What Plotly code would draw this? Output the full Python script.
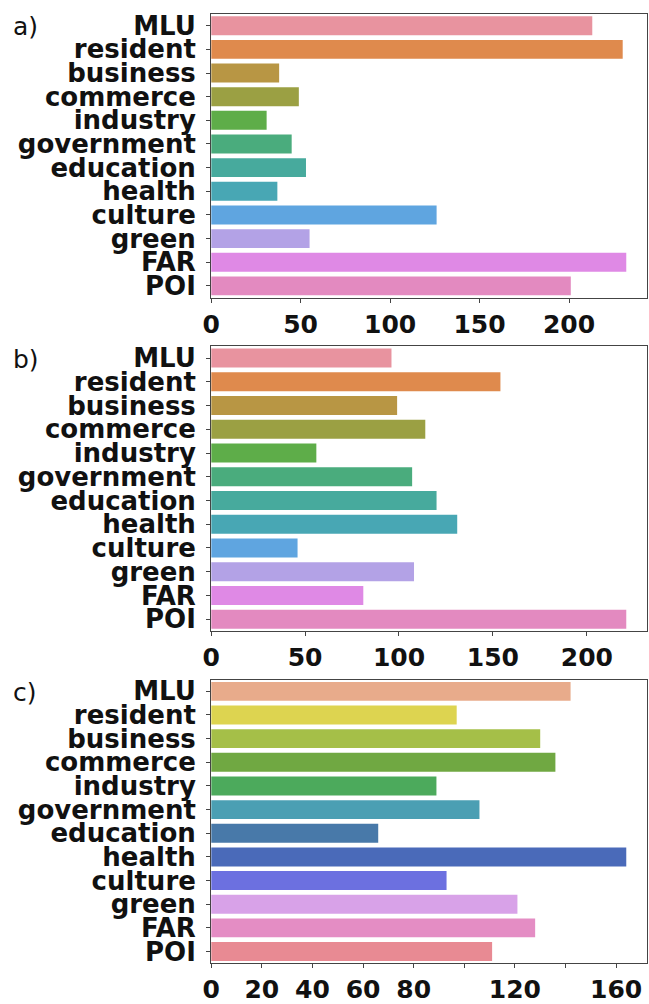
import plotly.graph_objects as go
from plotly.subplots import make_subplots

categories = ["MLU", "resident", "business", "commerce", "industry", "government",
              "education", "health", "culture", "green", "FAR", "POI"]

values_a = [213, 230, 38, 49, 31, 45, 53, 37, 126, 55, 232, 201]
values_b = [96, 154, 99, 114, 56, 107, 120, 131, 46, 108, 81, 221]
values_c = [142, 97, 130, 136, 89, 106, 66, 164, 93, 121, 128, 111]

colors_ab = ["#e8939f", "#df8a4d", "#b89644", "#9ba043", "#5ead49", "#4aac7d",
             "#47aa9d", "#48a7b4", "#5fa5e0", "#b3a2e6", "#df89e5", "#e38ac0"]
colors_c = ["#e8ab8b", "#ddd450", "#a5bf48", "#70a842", "#4caa5c", "#4b9fb3",
            "#4879a9", "#4a6ab9", "#6c70e0", "#d8a2e8", "#e48dc4", "#e88a93"]

ticks_ab = [0, 50, 100, 150, 200]
ticks_ab_text = ["0", "50", "100", "150", "200"]
ticks_c = [0, 20, 40, 60, 80, 100, 120, 140, 160]
ticks_c_text = ["0", "20", "40", "60", "80", "", "120", "", "160"]

panel_labels = ["a)", "b)", "c)"]

W, H = 649, 1004
x0, x1 = 205, 647
panels_px = [(11, 298), (347, 635), (684, 971)]

fig = make_subplots(rows=3, cols=1)

panel_data = [
    (values_a, colors_ab, ticks_ab, ticks_ab_text),
    (values_b, colors_ab, ticks_ab, ticks_ab_text),
    (values_c, colors_c, ticks_c, ticks_c_text),
]

cat_font = dict(family="DejaVu Sans", size=26, color="#111111", weight="bold")
num_font = dict(family="DejaVu Sans", size=25, color="#111111", weight="bold")

for i, (vals, cols, tv, tt) in enumerate(panel_data):
    r = i + 1
    fig.add_trace(
        go.Bar(x=vals, y=categories, orientation="h", marker=dict(color=cols, line=dict(width=0)),
               width=0.8, showlegend=False),
        row=r, col=1,
    )
    top, bot = panels_px[i]
    xa = "xaxis" if i == 0 else f"xaxis{r}"
    ya = "yaxis" if i == 0 else f"yaxis{r}"
    fig.layout[xa].update(
        domain=[x0 / W, x1 / W], range=[0, max(vals) * 1.05],
        tickmode="array", tickvals=tv, ticktext=tt,
        ticks="outside", ticklen=4, tickcolor="#444444",
        showline=True, linecolor="#444444", linewidth=1.2, mirror=True,
        showgrid=False, zeroline=False, tickfont=num_font, ticklabelstandoff=0,
    )
    fig.layout[ya].update(
        domain=[1 - bot / H, 1 - top / H], range=[11.5, -0.5],
        type="category", categoryorder="array", categoryarray=categories,
        tickmode="array", tickvals=categories, ticktext=categories,
        ticks="outside", ticklen=4, tickcolor="#444444",
        showline=True, linecolor="#444444", linewidth=1.2, mirror=True,
        showgrid=False, zeroline=False, tickfont=cat_font, ticklabelstandoff=5,
    )
    fig.add_annotation(
        text=panel_labels[i], x=2 / W, y=1 - (top + 13) / H, xref="paper", yref="paper",
        xanchor="left", yanchor="middle", showarrow=False,
        font=dict(family="DejaVu Sans", size=25, color="#111111"),
    )

fig.update_layout(
    width=W, height=H, margin=dict(l=0, r=0, t=0, b=0),
    paper_bgcolor="white", plot_bgcolor="white", bargap=0.2,
)

fig.write_html("out.html")
